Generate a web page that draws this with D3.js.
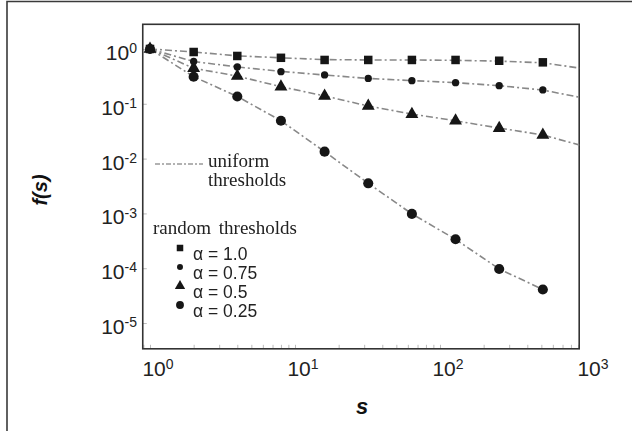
<!DOCTYPE html>
<html>
<head>
<meta charset="utf-8">
<script src="https://cdn.jsdelivr.net/npm/d3@7"></script>
<style>
  body { margin: 0; background: #fff; }
  svg { display: block; }
</style>
</head>
<body>
<svg id="chart" width="632" height="431"></svg>
<script>
// cluster sizes s
var sizes = [1, 2, 4, 8, 16, 32, 64, 128, 256, 512];
// random thresholds (markers)
var rand100 = [1, 0.88, 0.745, 0.69, 0.63, 0.63, 0.63, 0.63, 0.61, 0.57];
var rand075 = [1, 0.59, 0.47, 0.385, 0.336, 0.29, 0.264, 0.243, 0.214, 0.179];
var rand050 = [1, 0.445, 0.32, 0.205, 0.139, 0.091, 0.0645, 0.049, 0.0357, 0.027];
var rand025 = [1, 0.312, 0.136, 0.049, 0.0134, 0.00354, 0.00098, 0.000337, 0.000097, 0.000041];
// uniform thresholds (dash-dot lines)
var lineSizes = [1, 2, 4, 8, 16, 32, 64, 128, 256, 512, 1024];
var unif100 = [1, 0.88, 0.75, 0.69, 0.64, 0.63, 0.63, 0.62, 0.60, 0.56, 0.43];
var unif075 = [1, 0.59, 0.47, 0.39, 0.335, 0.29, 0.265, 0.243, 0.214, 0.178, 0.124];
var unif050 = [1, 0.445, 0.32, 0.205, 0.139, 0.091, 0.065, 0.049, 0.036, 0.027, 0.0163];
var unif025 = [1, 0.312, 0.136, 0.049, 0.0134, 0.00354, 0.00098, 0.000337, 0.000097, 0.000041];

var alphaLabels = ["\u03b1 = 1.0", "\u03b1 = 0.75", "\u03b1 = 0.5", "\u03b1 = 0.25"];
var xTickExp = [0, 1, 2, 3];
var yTickExp = [0, -1, -2, -3, -4, -5];

var svg = d3.select("#chart");

var x = d3.scaleLog().domain([Math.pow(10, -0.05), Math.pow(10, 2.96)]).range([142.75, 579.2]);
var y = d3.scaleLog().domain([Math.pow(10, 0.45), Math.pow(10, -5.47)]).range([24.3, 348.8]);

var defs = svg.append("defs");
defs.append("clipPath").attr("id", "plotClip")
  .append("rect")
  .attr("x", x.range()[0]).attr("y", y.range()[0])
  .attr("width", x.range()[1] - x.range()[0])
  .attr("height", y.range()[1] - y.range()[0]);
defs.append("filter").attr("id", "soft")
  .attr("x", "-50%").attr("y", "-50%").attr("width", "200%").attr("height", "200%")
  .append("feGaussianBlur").attr("stdDeviation", 0.7);

// outer frame (top + left)
svg.append("path")
  .attr("d", "M7,431 L7,1.5 L632,1.5")
  .attr("fill", "none").attr("stroke", "#3a3a3a").attr("stroke-width", 1.6);

// minor ticks along bottom, inside
var minor = [];
for (var e = -1; e < 3; e++) {
  for (var m = 1; m < 10; m++) {
    var v = m * Math.pow(10, e);
    if (v >= x.domain()[0] && v <= x.domain()[1]) minor.push(v);
  }
}
svg.append("g")
  .attr("transform", "translate(0," + y.range()[1] + ")")
  .call(d3.axisBottom(x).tickValues(minor).tickSize(-4).tickFormat(""))
  .call(function(g) { g.select(".domain").remove(); })
  .selectAll("line").attr("stroke", "#bbb");
svg.append("g")
  .attr("transform", "translate(" + x.range()[0] + ",0)")
  .call(d3.axisLeft(y).tickValues(yTickExp.map(function(d) { return Math.pow(10, d); })).tickSize(-4).tickFormat(""))
  .call(function(g) { g.select(".domain").remove(); })
  .selectAll("line").attr("stroke", "#bbb");

// plot frame
svg.append("rect")
  .attr("x", x.range()[0]).attr("y", y.range()[0])
  .attr("width", x.range()[1] - x.range()[0])
  .attr("height", y.range()[1] - y.range()[0])
  .attr("fill", "none").attr("stroke", "#333").attr("stroke-width", 1.6);

// tick labels with superscripts
var xl = svg.append("g").attr("font-family", "Liberation Sans, Arial, sans-serif").attr("fill", "#222");
xTickExp.forEach(function(d) {
  var t = xl.append("text")
    .attr("x", x(Math.pow(10, d)) + 8)
    .attr("y", 376)
    .attr("text-anchor", "middle")
    .attr("font-size", 21);
  t.append("tspan").text("10");
  t.append("tspan").attr("font-size", 14).attr("dy", -6.8).text(d);
});
yTickExp.forEach(function(d) {
  var t = xl.append("text")
    .attr("x", 137)
    .attr("y", y(Math.pow(10, d)) + 11)
    .attr("text-anchor", "end")
    .attr("font-size", 21);
  t.append("tspan").text("10");
  t.append("tspan").attr("font-size", 14).attr("dy", -6.8).text(d === 0 ? "0" : "-" + Math.abs(d));
});

// axis titles
svg.append("text")
  .attr("transform", "translate(47,190) rotate(-90)")
  .attr("text-anchor", "middle")
  .attr("font-family", "Liberation Sans, Arial, sans-serif")
  .attr("font-size", 20).attr("font-weight", "bold").attr("font-style", "italic")
  .attr("fill", "#111")
  .text("f(s)");
svg.append("text")
  .attr("x", 362).attr("y", 414)
  .attr("text-anchor", "middle")
  .attr("font-family", "Liberation Sans, Arial, sans-serif")
  .attr("font-size", 22).attr("font-weight", "bold").attr("font-style", "italic")
  .attr("fill", "#111")
  .text("s");

// uniform threshold lines
var line = d3.line()
  .x(function(d) { return x(d[0]); })
  .y(function(d) { return y(d[1]); });
var plot = svg.append("g").attr("clip-path", "url(#plotClip)");
[unif100, unif075, unif050, unif025].forEach(function(vals) {
  plot.append("path")
    .datum(vals.map(function(v, i) { return [lineSizes[i], v]; }))
    .attr("d", line)
    .attr("fill", "none")
    .attr("stroke", "#888")
    .attr("stroke-width", 1.6)
    .attr("stroke-dasharray", "7,3,2,3");
});

// random threshold markers
var shapes = [d3.symbolSquare, d3.symbolCircle, d3.symbolTriangle, d3.symbolCircle];
var sizesSym = [72, 42, 72, 80];
var series = [rand100, rand075, rand050, rand025];
var marks = plot.append("g").attr("filter", "url(#soft)").attr("fill", "#141414");
series.forEach(function(vals, k) {
  marks.selectAll(".m" + k)
    .data(vals.map(function(v, i) { return [sizes[i], v]; }))
    .enter()
    .append("path")
    .attr("class", "m" + k)
    .attr("transform", function(d) { return "translate(" + x(d[0]) + "," + y(d[1]) + ")"; })
    .attr("d", d3.symbol().type(shapes[k]).size(sizesSym[k]));
});

// legend: uniform thresholds
var leg = svg.append("g");
leg.append("line")
  .attr("x1", 155).attr("x2", 203).attr("y1", 164).attr("y2", 164)
  .attr("stroke", "#999").attr("stroke-width", 1.6)
  .attr("stroke-dasharray", "5,2,2,2");
leg.append("text")
  .attr("x", 208).attr("y", 167)
  .attr("font-family", "Liberation Serif, Times New Roman, serif")
  .attr("font-size", 19).attr("fill", "#222")
  .text("uniform");
leg.append("text")
  .attr("x", 208).attr("y", 186)
  .attr("font-family", "Liberation Serif, Times New Roman, serif")
  .attr("font-size", 19).attr("fill", "#222")
  .text("thresholds");

// legend: random thresholds
leg.append("text")
  .attr("x", 153).attr("y", 234)
  .attr("font-family", "Liberation Serif, Times New Roman, serif")
  .attr("font-size", 19).attr("fill", "#222")
  .attr("word-spacing", 3)
  .text("random thresholds");
var legSym = [42, 28, 46, 48];
alphaLabels.forEach(function(lab, k) {
  var yy = 248 + k * 19;
  leg.append("path")
    .attr("transform", "translate(180," + yy + ")")
    .attr("d", d3.symbol().type(shapes[k]).size(legSym[k]))
    .attr("fill", "#141414")
    .attr("filter", "url(#soft)");
  leg.append("text")
    .attr("x", 193).attr("y", yy + 12)
    .attr("font-family", "Liberation Sans, Arial, sans-serif")
    .attr("font-size", 17.5).attr("fill", "#222")
    .text(lab);
});
</script>
</body>
</html>
